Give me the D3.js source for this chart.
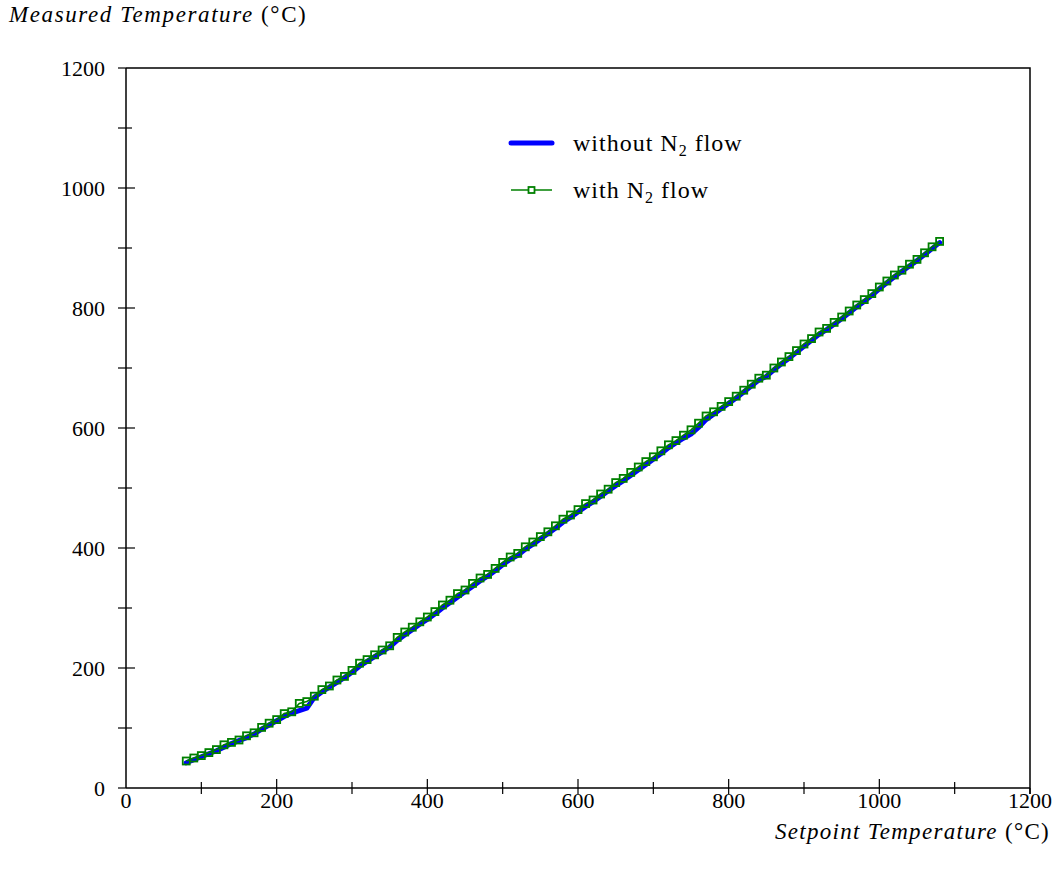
<!DOCTYPE html>
<html>
<head>
<meta charset="utf-8">
<script src="https://cdn.jsdelivr.net/npm/d3@7"></script>
<style>
  body { margin: 0; background: #fff; }
  #chart { width: 1056px; height: 873px; }
  text { font-family: "Liberation Serif", "Times New Roman", serif; fill: #000; }
</style>
</head>
<body>
<div id="chart"></div>
<script>
// Setpoint temperatures (°C)
const setpoints = [
  80, 90, 100, 110, 120, 130, 140, 150, 160, 170, 180, 190, 200, 210, 220, 230, 240, 250, 260, 270,
  280, 290, 300, 310, 320, 330, 340, 350, 360, 370, 380, 390, 400, 410, 420, 430, 440, 450, 460, 470,
  480, 490, 500, 510, 520, 530, 540, 550, 560, 570, 580, 590, 600, 610, 620, 630, 640, 650, 660, 670,
  680, 690, 700, 710, 720, 730, 740, 750, 760, 770, 780, 790, 800, 810, 820, 830, 840, 850, 860, 870,
  880, 890, 900, 910, 920, 930, 940, 950, 960, 970, 980, 990, 1000, 1010, 1020, 1030, 1040, 1050, 1060, 1070,
  1080
];
// Measured temperature with N2 flow (green squares)
const withN2 = [
  45, 50, 54, 59, 64, 72, 76, 80, 87, 92, 101, 108, 114, 124, 127, 141, 144, 153, 164, 170,
  180, 186, 196, 208, 214, 222, 230, 237, 251, 260, 268, 277, 285, 294, 305, 313, 324, 330, 341, 350,
  356, 366, 376, 385, 391, 402, 410, 419, 427, 437, 448, 455, 464, 474, 480, 490, 498, 509, 516, 526,
  535, 544, 552, 562, 572, 579, 588, 597, 608, 620, 627, 636, 644, 653, 663, 673, 683, 688, 700, 710,
  719, 729, 740, 749, 760, 766, 776, 785, 795, 805, 814, 824, 835, 845, 855, 863, 873, 881, 892, 902,
  911
];
// Measured temperature without N2 flow (thick blue line)
const withoutN2 = [
  42, 47, 52, 57, 62, 68, 74, 79, 84, 90, 98, 105, 112, 119, 125, 129, 133, 151, 160, 168,
  176, 184, 193, 203, 211, 219, 227, 235, 246, 255, 264, 273, 281, 290, 300, 309, 318, 327, 336, 345,
  353, 362, 372, 381, 388, 398, 406, 415, 424, 433, 443, 451, 460, 469, 477, 486, 495, 504, 512, 521,
  530, 539, 548, 557, 567, 575, 583, 590, 601, 614, 623, 632, 641, 650, 660, 670, 680, 686, 697, 707,
  716, 726, 736, 746, 756, 764, 773, 782, 792, 802, 811, 821, 832, 842, 852, 861, 870, 879, 889, 899,
  909
];
const xTicks = [0, 200, 400, 600, 800, 1000, 1200];
const yTicks = [0, 200, 400, 600, 800, 1000, 1200];

const W = 1056, H = 873;
const margin = { top: 68, right: 26, bottom: 85, left: 126 };

const svg = d3.select("#chart").append("svg")
  .attr("width", W).attr("height", H);

const x = d3.scaleLinear().domain([0, 1200]).range([margin.left, W - margin.right]);
const y = d3.scaleLinear().domain([0, 1200]).range([H - margin.bottom, margin.top]);

const greenData = setpoints.map((s, i) => ({ s, v: withN2[i] }));
const blueData = setpoints.map((s, i) => ({ s, v: withoutN2[i] }));

// frame (top & right)
svg.append("path")
  .attr("d", `M${x(0)},${y(1200)}H${x(1200)}V${y(0) + 6}`)
  .attr("fill", "none").attr("stroke", "#000").attr("stroke-width", 1.5);

// x axis, ticks cross the line
const xAxis = svg.append("g").attr("transform", `translate(0,${y(0)})`);
xAxis.append("line").attr("x1", x(0)).attr("x2", x(1200))
  .attr("stroke", "#000").attr("stroke-width", 1.5);
xAxis.selectAll(".tk").data(d3.range(100, 1201, 100)).join("line")
  .attr("x1", d => x(d)).attr("x2", d => x(d))
  .attr("y1", d => d === 1200 ? 0 : (d % 200 === 0 ? -9 : -6)).attr("y2", 6)
  .attr("stroke", "#000").attr("stroke-width", 1.2);
xAxis.selectAll("text").data(xTicks).join("text")
  .attr("x", d => x(d)).attr("y", 20)
  .attr("text-anchor", "middle").attr("font-size", 22)
  .text(d => d);

// y axis, ticks cross the line
const yAxis = svg.append("g").attr("transform", `translate(${x(0)},0)`);
yAxis.append("line").attr("y1", y(0)).attr("y2", y(1200))
  .attr("stroke", "#000").attr("stroke-width", 1.5);
yAxis.selectAll(".tk").data(d3.range(0, 1201, 100)).join("line")
  .attr("y1", d => y(d)).attr("y2", d => y(d))
  .attr("x1", -8).attr("x2", d => d === 1200 || d === 0 ? 0 : (d % 200 === 0 ? 9 : 6))
  .attr("stroke", "#000").attr("stroke-width", 1.2);
yAxis.selectAll("text").data(yTicks).join("text")
  .attr("x", -21).attr("y", d => y(d)).attr("dy", "0.35em")
  .attr("text-anchor", "end").attr("font-size", 22)
  .text(d => d);

// axis titles
const yt = svg.append("text").attr("x", 9).attr("y", 22)
  .attr("font-size", 23).attr("letter-spacing", 1.6);
yt.append("tspan").attr("font-style", "italic").text("Measured Temperature ");
yt.append("tspan").text("(°C)");

const xt = svg.append("text").attr("x", 1050).attr("y", 839)
  .attr("text-anchor", "end").attr("font-size", 23).attr("letter-spacing", 1.3);
xt.append("tspan").attr("font-style", "italic").text("Setpoint Temperature ");
xt.append("tspan").text("(°C)");

// series
const line = d3.line().x(d => x(d.s)).y(d => y(d.v));

svg.append("path").datum(blueData)
  .attr("d", line).attr("fill", "none")
  .attr("stroke", "#0000ff").attr("stroke-width", 5)
  .attr("stroke-linejoin", "round").attr("stroke-linecap", "round");

svg.append("path").datum(greenData)
  .attr("d", line).attr("fill", "none")
  .attr("stroke", "#008000").attr("stroke-width", 1.6);

svg.selectAll(".sq").data(greenData).join("rect")
  .attr("class", "sq")
  .attr("x", d => x(d.s) - 3.5).attr("y", d => y(d.v) - 3.5)
  .attr("width", 7).attr("height", 7)
  .attr("fill", "none").attr("stroke", "#008000").attr("stroke-width", 1.8);

// legend
const leg = svg.append("g");
leg.append("line").attr("x1", 511).attr("x2", 552).attr("y1", 143).attr("y2", 143)
  .attr("stroke", "#0000ff").attr("stroke-width", 5).attr("stroke-linecap", "round");
const t1 = leg.append("text").attr("x", 573).attr("y", 151)
  .attr("font-size", 24).attr("letter-spacing", 1);
t1.append("tspan").text("without N");
t1.append("tspan").attr("font-size", 16).attr("dy", 5).text("2");
t1.append("tspan").attr("dy", -5).text(" flow");

leg.append("line").attr("x1", 511).attr("x2", 552).attr("y1", 190).attr("y2", 190)
  .attr("stroke", "#008000").attr("stroke-width", 1.6);
leg.append("rect").attr("x", 528.5).attr("y", 187).attr("width", 6).attr("height", 6)
  .attr("fill", "#fff").attr("stroke", "#008000").attr("stroke-width", 1.8);
const t2 = leg.append("text").attr("x", 573).attr("y", 198)
  .attr("font-size", 24).attr("letter-spacing", 1);
t2.append("tspan").text("with N");
t2.append("tspan").attr("font-size", 16).attr("dy", 5).text("2");
t2.append("tspan").attr("dy", -5).text(" flow");
</script>
</body>
</html>
